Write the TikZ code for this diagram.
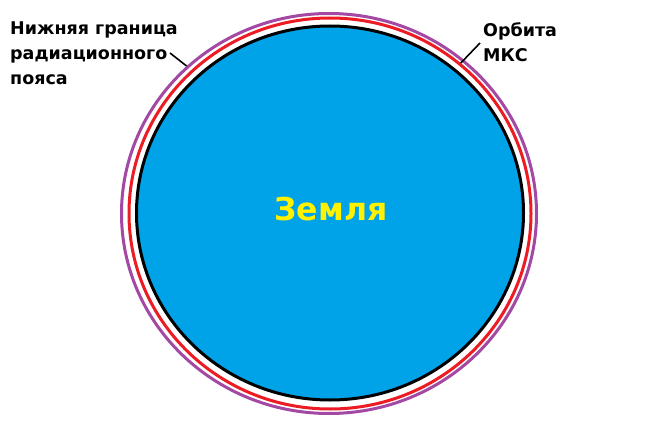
\documentclass[tikz,border=0pt]{standalone}
\usepackage{fontspec}
\setmainfont{DejaVu Sans}
\usetikzlibrary{shapes.geometric, positioning}
\definecolor{earthblue}{HTML}{00A2E8}
\definecolor{beltpurple}{HTML}{A349A4}
\definecolor{orbitred}{HTML}{ED1C24}
\definecolor{earthyellow}{HTML}{FFF200}
\tikzstyle{ring} = [ellipse, inner sep=0pt, line width=3pt]
\tikzstyle{caption} = [inner sep=0pt, anchor=north west, align=left, font=\fontsize{17.5}{25}\selectfont\bfseries]
\tikzstyle{leader} = [line width=1.6pt, black]

\begin{document}
\begin{tikzpicture}[x=1pt, y=-1pt]
    \useasboundingbox[fill=white] (0,0) rectangle (650,433);
    \node (belt) [ring, draw=beltpurple, minimum width=415pt, minimum height=400pt] at (329,213.5) {};
    \node (orbit) [ring, draw=orbitred, minimum width=402pt, minimum height=391pt] at (330,213.5) {};
    \node (earth) [ring, draw=black, fill=earthblue, minimum width=387pt, minimum height=374pt] at (330,213) {};
    \node (earthname) [font=\fontsize{31.5}{36}\selectfont\bfseries, text=earthyellow] at (331,209) {Земля};
    \node (beltlabel) [caption] at (10,22) {Нижняя граница\\радиационного\\пояса};
    \node (orbitlabel) [caption] at (483,22) {Орбита\\МКС};
    \coordinate (beltfoot) at (170,53);
    \coordinate (orbitfoot) at (480,43);
    \draw[leader] (beltfoot) -- (belt.134);
    \draw[leader] (orbitfoot) -- (orbit.49);
\end{tikzpicture}
\end{document}
